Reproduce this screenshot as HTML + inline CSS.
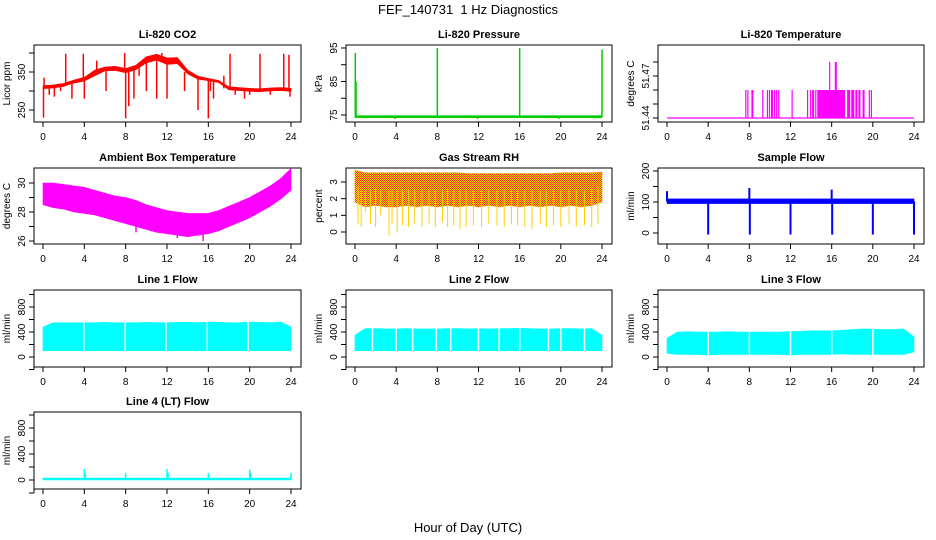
<!DOCTYPE html>
<html><head><meta charset="utf-8">
<style>
html,body{margin:0;padding:0;background:#fff;}
svg{display:block;font-family:"Liberation Sans",Arial,sans-serif;}
</style></head>
<body>
<svg id="chart" width="936" height="540" viewBox="0 0 936 540" xmlns="http://www.w3.org/2000/svg">
<defs>
<pattern id="rhpat" width="2" height="2" patternUnits="userSpaceOnUse">
<rect width="2" height="2" fill="#ffd800"/><rect width="1" height="1" fill="#e8300a"/><rect x="1" y="1" width="1" height="1" fill="#e8300a"/>
</pattern>
</defs>
<text x="468" y="14" text-anchor="middle" font-size="13">FEF_140731&#160; 1 Hz Diagnostics</text>
<text x="468" y="532" text-anchor="middle" font-size="13">Hour of Day (UTC)</text>
<g id="plots"></g>
</svg>
<script>
// ---- data ----
const hours = [0,1,2,3,4,5,6,7,8,9,10,11,12,13,14,15,16,17,18,19,20,21,22,23,24];
const xTicks = [0,4,8,12,16,20,24];

const co2Lo = [306,308,312,321,326,340,353,354,348,356,374,381,370,372,345,331,327,322,303,301,299,298,300,301,299];
const co2Hi = [314,316,320,329,336,355,363,365,359,368,390,397,387,388,355,339,333,328,311,309,307,306,308,309,307];
const co2SpikeH = [0.05,0.1,0.6,1.1,1.7,2.2,2.8,3.9,4.0,5.2,6.1,7.9,8.0,8.3,8.8,9.3,10.0,11.0,11.5,12.0,13.7,15.0,16.0,16.2,16.5,17.5,18.1,18.6,19.5,20.0,21.0,22.0,23.3,23.8,23.9];
const co2SpikeV = [230,335,290,285,300,398,280,398,280,380,300,400,228,260,280,340,300,280,400,280,300,250,228,300,280,340,398,290,280,290,398,290,398,395,285];

const presLo = hours.map(()=>74.2);
const presHi = hours.map(()=>74.8);
const presSpikeH = [0.03,0.1,3.9,8.0,11.9,16.0,19.8,24.0];
const presSpikeV = [93.5,85,73.8,95,73.8,95,73.8,94.5];

const tempBase = 51.44;
const tempStart = [7.6,7.8,8.2,9.25,9.7,9.9,10.1,10.4,10.6,10.8,12.1,13.6,13.9,14.1,14.4,14.6,15.0,17.5,17.9,18.3,18.6,19.0,19.6,19.8,15.75,16.3];
const tempEnd   = [7.7,7.85,8.4,9.3,9.75,10.0,10.3,10.5,10.7,10.85,12.15,13.7,14.0,14.3,14.5,15.0,17.3,17.8,18.2,18.5,18.8,19.2,19.7,19.85,15.85,16.5];
const tempVal   = [51.46,51.46,51.46,51.46,51.46,51.46,51.46,51.46,51.46,51.46,51.46,51.46,51.46,51.46,51.46,51.46,51.46,51.46,51.46,51.46,51.46,51.46,51.46,51.46,51.48,51.48];

const ambHi = [30.0,30.0,29.9,29.8,29.7,29.5,29.3,29.1,29.0,28.8,28.5,28.3,28.1,28.0,27.9,27.9,27.9,28.1,28.4,28.7,29.0,29.4,29.8,30.3,31.0];
const ambLo = [28.5,28.3,28.2,28.0,27.9,27.8,27.6,27.4,27.2,27.0,26.8,26.6,26.5,26.4,26.3,26.4,26.5,26.7,27.0,27.3,27.6,28.0,28.4,28.9,29.5];
const ambSpikeH = [15.5,13.0,9.0];
const ambSpikeV = [26.0,26.2,26.6];

const rhHi = [3.7,3.55,3.55,3.55,3.55,3.55,3.55,3.55,3.55,3.55,3.55,3.5,3.5,3.5,3.5,3.5,3.5,3.5,3.5,3.5,3.55,3.55,3.55,3.55,3.6];
const rhLo = [1.8,1.5,1.6,1.5,1.5,1.6,1.5,1.6,1.5,1.6,1.5,1.6,1.5,1.6,1.5,1.6,1.5,1.6,1.5,1.6,1.5,1.6,1.5,1.6,1.8];
const rhSpikeH = [0.3,0.6,1.0,1.5,2.0,2.5,3.3,3.6,4.1,4.6,5.2,5.8,6.5,7.2,7.8,8.5,9.0,9.6,10.2,10.8,11.5,12.3,13.0,13.8,14.5,15.2,15.8,16.5,17.2,18.0,18.6,19.3,20.0,20.8,21.5,22.3,23.0,23.6];
const rhSpikeV = [0.5,0.3,1.2,0.5,0.3,1.0,-0.2,0.5,0.0,0.4,0.3,0.5,0.3,0.5,0.3,0.6,0.3,0.4,0.2,0.3,0.4,0.3,0.5,0.4,0.3,0.5,0.4,0.3,0.2,0.5,0.3,0.4,0.3,0.5,0.3,0.4,0.3,0.5];

const sfLo = hours.map(()=>95);
const sfHi = hours.map(()=>110);
const sfSpikeH = [0,4,8,8.05,12,16,16.05,20,24];
const sfSpikeV = [135,-5,145,-5,-5,140,-5,-5,-5];

const l1Lo = hours.map(()=>100);
const l1Hi = [480,550,550,550,550,550,555,550,550,550,555,550,550,555,555,550,560,555,550,550,560,555,550,560,480];
const l1Gaps = [3.95,7.95,11.9,15.9,19.85];

const l2Lo = hours.map(()=>100);
const l2Hi = [350,455,455,450,450,455,450,450,450,455,455,450,455,450,455,455,460,455,450,450,455,455,450,455,350];
const l2Gaps = [1.7,4.0,5.6,7.9,9.3,12.0,14.0,16.0,18.8,20.0,22.3];

const l3Lo = [60,40,40,40,30,40,40,40,40,40,40,40,30,40,40,40,40,50,40,40,40,40,40,40,80];
const l3Hi = [300,400,405,400,400,400,405,400,400,400,400,400,410,410,420,420,420,430,440,450,445,440,440,450,320];
const l3Gaps = [4.0,8.0,12.0,16.0,20.0];

const l4Lo = hours.map(()=>0);
const l4Hi = hours.map(()=>30);
const l4SpikeH = [4,4.1,8,12,12.1,16,20,20.1,24];
const l4SpikeV = [170,110,110,170,110,110,160,110,110];

// ---- layout ----
const cols = [[34,301],[346,612],[658,924]];
const rows = [[45,122],[168,244],[290,367],[412,489]];
const NS = "http://www.w3.org/2000/svg";
const root = document.getElementById('plots');

function mk(tag, attrs, parent){
  const e = document.createElementNS(NS, tag);
  for (const k in attrs) e.setAttribute(k, attrs[k]);
  (parent||root).appendChild(e);
  return e;
}

function panel(cfg){
  const [L,R] = cols[cfg.col], [T,B] = rows[cfg.row];
  const x = h => (L+9) + h/24*((R-10)-(L+9));
  const y = v => cfg.p0 + (v-cfg.v0)*(cfg.p1-cfg.p0)/(cfg.v1-cfg.v0);
  const g = mk('g', {});
  
  
  const t = mk('text', {x:(L+R)/2, y:T-7, 'text-anchor':'middle', 'font-size':'11', 'font-weight':'bold'}, g);
  
  
  t.textContent = cfg.title;
  const clip = 'clip-' + cfg.name;
  const cp = mk('clipPath', {id:clip}, g);
  mk('rect', {x:L, y:T, width:R-L, height:B-T}, cp);
  const d = mk('g', {'clip-path':'url(#'+clip+')'}, g);
  
  
  if (cfg.lo){
    let pts = hours.map((h,i)=>x(h)+','+y(cfg.hi[i]));
    for (let i=hours.length-1;i>=0;i--) pts.push(x(hours[i])+','+y(cfg.lo[i]));
    const band = mk('polygon', {points:pts.join(' '), fill:cfg.fill||cfg.color, stroke:cfg.color, 'stroke-width':0.6}, d);
    
    
  }
  if (cfg.gaps){
    cfg.gaps.forEach(h=>{
      const gl = mk('line', {x1:x(h), x2:x(h), y1:T, y2:B, stroke:'#fff', 'stroke-width':1.5}, d);
      
      
    });
  }
  if (cfg.sh){
    cfg.sh.forEach((h,i)=>{
      const i0 = Math.min(24, Math.max(0, Math.round(h)));
      const base = (cfg.lo[i0]+cfg.hi[i0])/2;
      const sl = mk('line', {x1:x(h), x2:x(h), y1:y(base), y2:y(cfg.sv[i]), stroke:cfg.spikeColor||cfg.color, 'stroke-width':cfg.sw||1.5}, d);
      
      
    });
  }
  if (cfg.custom) cfg.custom(d, x, y);
  const box = mk('rect', {x:L, y:T, width:R-L, height:B-T, fill:'none', stroke:'#000', 'stroke-width':1}, g);
  
  
  const xa = mk('g', {}, g);
  
  
  mk('line', {x1:x(0), x2:x(24), y1:B, y2:B, stroke:'#000'}, xa);
  xTicks.forEach(h=>{
    mk('line', {x1:x(h), x2:x(h), y1:B, y2:B+5, stroke:'#000'}, xa);
    const tl = mk('text', {x:x(h), y:B+18, 'text-anchor':'middle', 'font-size':'10'}, xa);
    
    
    tl.textContent = h;
  });
  const ya = mk('g', {}, g);
  
  
  const tk = cfg.ticks;
  mk('line', {x1:L, x2:L, y1:y(tk[0]), y2:y(tk[tk.length-1]), stroke:'#000'}, ya);
  tk.forEach(v=>{
    mk('line', {x1:L-5, x2:L, y1:y(v), y2:y(v), stroke:'#000'}, ya);
  });
  cfg.labels.forEach(v=>{
    const yy = y(v);
    const tl = mk('text', {x:L-9, y:yy, 'text-anchor':'middle', 'font-size':'10', transform:'rotate(-90 '+(L-9)+' '+yy+')'}, ya);
    
    
    tl.textContent = cfg.fmt ? cfg.fmt(v) : v;
  });
  const yt = mk('text', {x:L-24, y:(T+B)/2, 'text-anchor':'middle', 'font-size':'10', transform:'rotate(-90 '+(L-24)+' '+((T+B)/2)+')'}, ya);
  
  
  yt.textContent = cfg.ytitle;
}

const flowTicks = [-200,0,200,400,600,800,1000];

panel({name:'co2-panel', title:'Li-820 CO2', col:0,row:0, v0:250,p0:110,v1:350,p1:72, ticks:[250,300,350,400], labels:[250,350], ytitle:'Licor ppm', color:'#ff0000', lo:co2Lo, hi:co2Hi, sh:co2SpikeH, sv:co2SpikeV});
panel({name:'pressure-panel', title:'Li-820 Pressure', col:1,row:0, v0:75,p0:115,v1:95,p1:48, ticks:[75,80,85,90,95], labels:[75,85,95], ytitle:'kPa', color:'#00cc00', lo:presLo, hi:presHi, sh:presSpikeH, sv:presSpikeV});
panel({name:'temperature-panel', title:'Li-820 Temperature', col:2,row:0, v0:51.44,p0:118,v1:51.47,p1:76, ticks:[51.44,51.45,51.46,51.47,51.48], labels:[51.44,51.47], fmt:v=>v.toFixed(2), ytitle:'degrees C', color:'#ff00ff',
  custom:(d,x,y)=>{
    const bl = mk('line', {x1:x(0), x2:x(24), y1:y(tempBase), y2:y(tempBase), stroke:'#ff00ff', 'stroke-width':1.2}, d);
    
    
    tempStart.forEach((s,i)=>{
      const r = mk('rect', {x:x(s), y:y(tempVal[i]), width:Math.max(1.2, x(tempEnd[i])-x(s)), height:y(tempBase)-y(tempVal[i]), fill:'#ff00ff'}, d);
      
      
    });
  }});
panel({name:'ambient-temp-panel', title:'Ambient Box Temperature', col:0,row:1, v0:26,p0:241,v1:30,p1:183, ticks:[26,27,28,29,30], labels:[26,28,30], ytitle:'degrees C', color:'#ff00ff', lo:ambLo, hi:ambHi, sh:ambSpikeH, sv:ambSpikeV});
panel({name:'rh-panel', title:'Gas Stream RH', col:1,row:1, v0:0,p0:232,v1:3,p1:182, ticks:[0,1,2,3], labels:[0,1,2,3], ytitle:'percent', color:'#f08a00', fill:'url(#rhpat)', lo:rhLo, hi:rhHi, sh:rhSpikeH, sv:rhSpikeV, spikeColor:'#ffd000', sw:1});
panel({name:'sample-flow-panel', title:'Sample Flow', col:2,row:1, v0:0,p0:233,v1:200,p1:171, ticks:[0,50,100,150,200], labels:[0,100,200], ytitle:'ml/min', color:'#0000ff', lo:sfLo, hi:sfHi, sh:sfSpikeH, sv:sfSpikeV, sw:2});
panel({name:'line1-flow-panel', title:'Line 1 Flow', col:0,row:2, v0:0,p0:357,v1:800,p1:307, ticks:flowTicks, labels:[0,400,800], ytitle:'ml/min', color:'#00ffff', lo:l1Lo, hi:l1Hi, gaps:l1Gaps});
panel({name:'line2-flow-panel', title:'Line 2 Flow', col:1,row:2, v0:0,p0:357,v1:800,p1:307, ticks:flowTicks, labels:[0,400,800], ytitle:'ml/min', color:'#00ffff', lo:l2Lo, hi:l2Hi, gaps:l2Gaps});
panel({name:'line3-flow-panel', title:'Line 3 Flow', col:2,row:2, v0:0,p0:357,v1:800,p1:307, ticks:flowTicks, labels:[0,400,800], ytitle:'ml/min', color:'#00ffff', lo:l3Lo, hi:l3Hi, gaps:l3Gaps});
panel({name:'line4-flow-panel', title:'Line 4 (LT) Flow', col:0,row:3, v0:0,p0:480,v1:800,p1:428, ticks:flowTicks, labels:[0,400,800], ytitle:'ml/min', color:'#00ffff', lo:l4Lo, hi:l4Hi, sh:l4SpikeH, sv:l4SpikeV});
</script>
</body></html>
